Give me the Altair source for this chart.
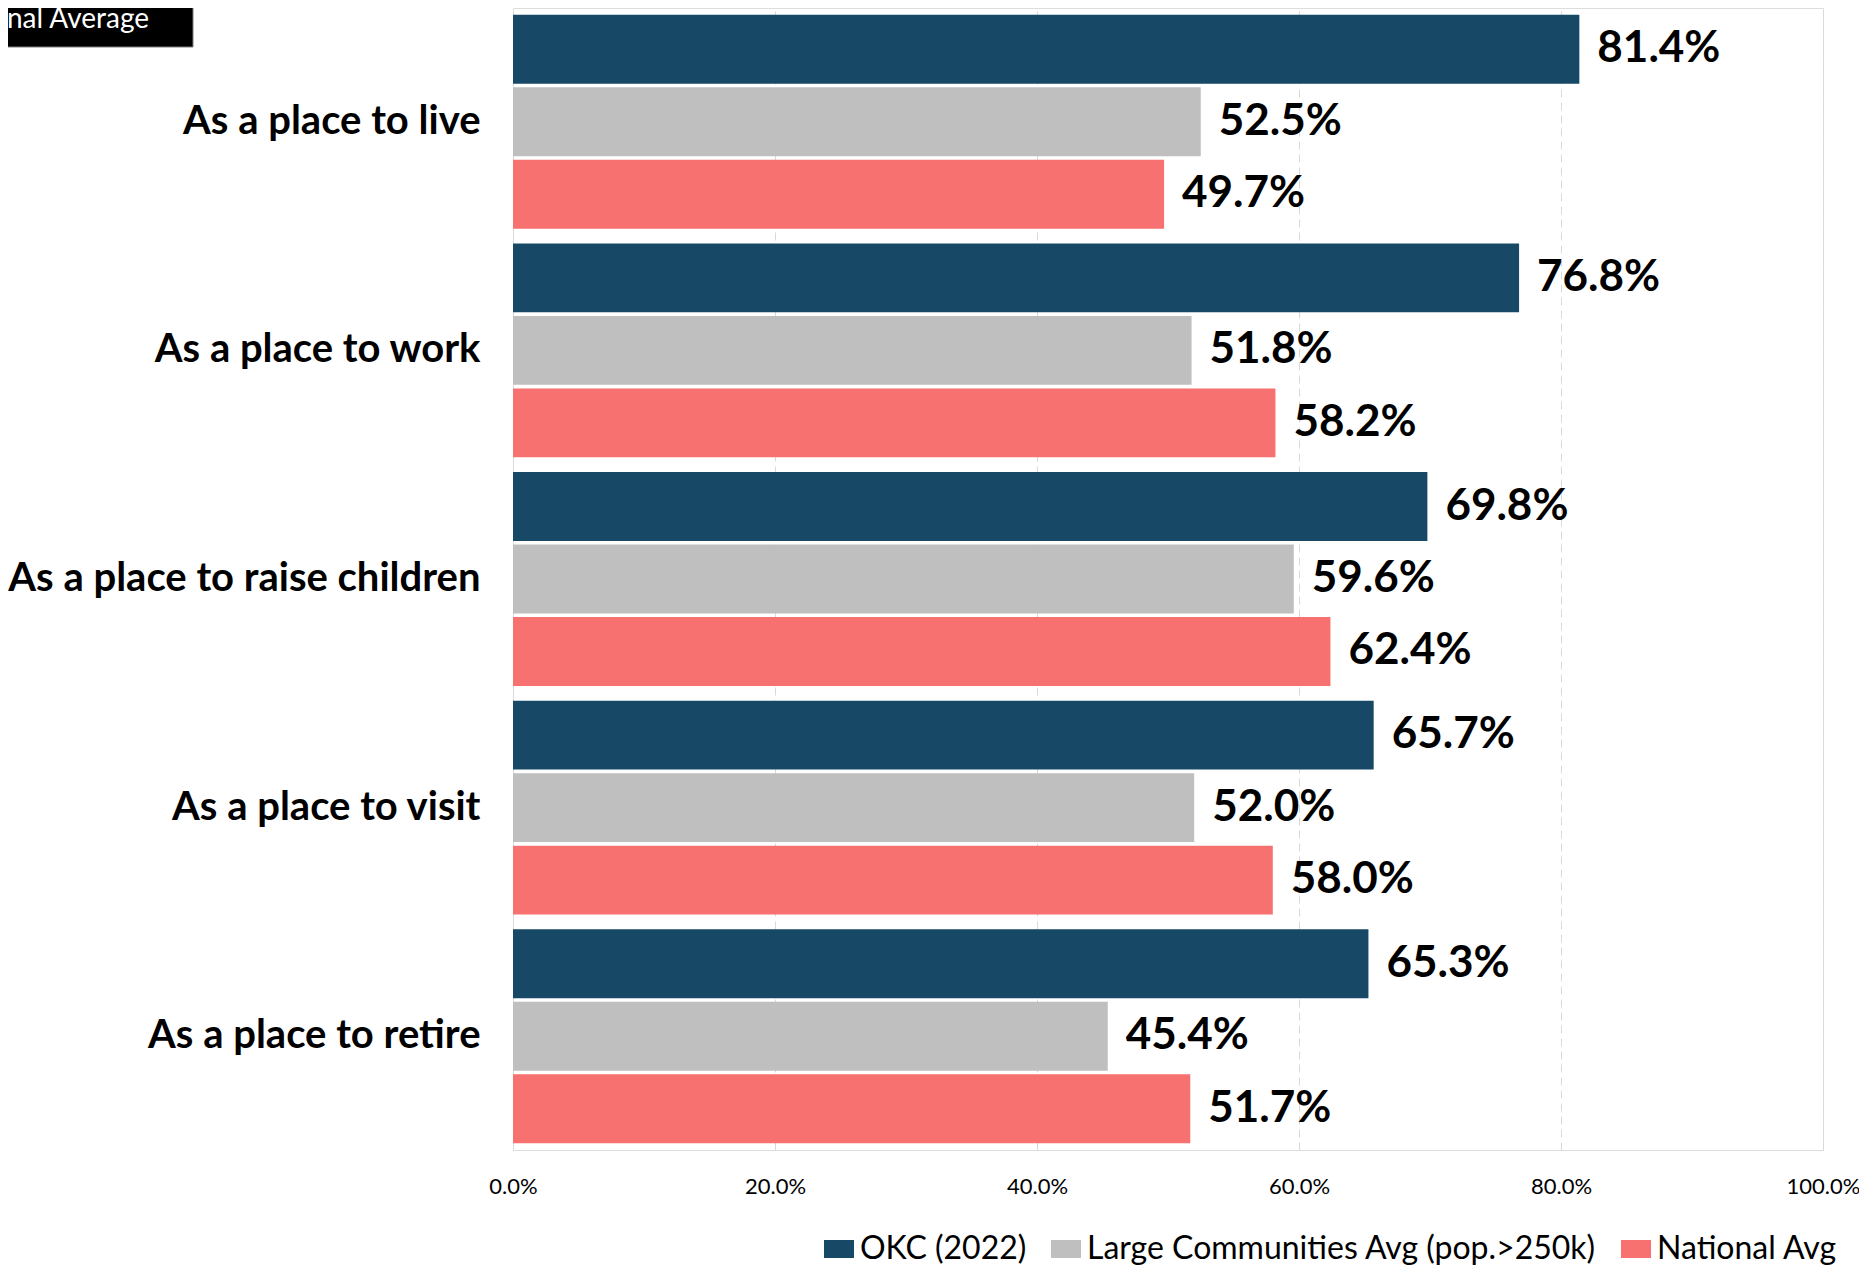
import altair as alt
import pandas as pd

categories = ["As a place to live", "As a place to work", "As a place to raise children",
              "As a place to visit", "As a place to retire"]
series = ["OKC (2022)", "Large Communities Avg (pop.>250k)", "National Avg"]
okc = [81.4, 76.8, 69.8, 65.7, 65.3]
large = [52.5, 51.8, 59.6, 52.0, 45.4]
national = [49.7, 58.2, 62.4, 58.0, 51.7]
colors = ["#174866", "#BFBFBF", "#F77170"]
x_ticks = [0, 0.2, 0.4, 0.6, 0.8, 1.0]

rows = []
for i, c in enumerate(categories):
    for s, vals in zip(series, [okc, large, national]):
        rows.append({"category": c, "series": s, "value": vals[i] / 100.0})
df = pd.DataFrame(rows)

FONT = "Lato"

base = alt.Chart(df).encode(
    y=alt.Y("category:N", sort=categories,
            scale=alt.Scale(paddingInner=0.065, paddingOuter=0.03),
            axis=alt.Axis(title=None, labelFontSize=40, labelFontWeight="bold", labelFont=FONT,
                          labelColor="black", labelPadding=33, ticks=False, domain=False,
                          labelLimit=800)),
    yOffset=alt.YOffset("series:N", sort=series,
                        scale=alt.Scale(paddingInner=0.05, paddingOuter=0)),
)

bars = base.mark_bar().encode(
    x=alt.X("value:Q", scale=alt.Scale(domain=[0, 1]),
            axis=alt.Axis(title=None, format=".1%", values=x_ticks, labelFontSize=22,
                          labelFont=FONT, labelColor="black", labelPadding=26,
                          labelFlush=False, ticks=False, domain=False, grid=True,
                          gridColor="#d9d9d9", gridDash=[8, 5], gridWidth=1)),
    color=alt.Color("series:N", sort=series,
                    scale=alt.Scale(domain=series, range=colors),
                    legend=alt.Legend(title=None, orient="none", direction="horizontal",
                                      legendX=310, legendY=1225,
                                      symbolType="M-1,-0.6L1,-0.6L1,0.6L-1,0.6Z",
                                      symbolSize=900, symbolStrokeWidth=0,
                                      labelFontSize=32, labelFont=FONT, labelColor="black",
                                      columnPadding=23, labelOffset=5, labelLimit=900)),
)

labels = base.mark_text(align="left", baseline="middle", dx=18, fontSize=44,
                        fontWeight="bold", font=FONT, color="black").encode(
    x=alt.X("value:Q"),
    text=alt.Text("value:Q", format=".1%"),
)

box = alt.Chart(alt.Data(values=[{}])).mark_rect(color="black", stroke="#7f7f7f",
                                                 strokeWidth=1).encode(
    x=alt.value(-530), x2=alt.value(-320), y=alt.value(-20), y2=alt.value(39)
)
box_text = alt.Chart(alt.Data(values=[{}])).mark_text(
    align="right", baseline="middle", fontSize=28, font=FONT, color="white"
).encode(x=alt.value(-364), y=alt.value(12), text=alt.value("National Average"))

chart = alt.layer(bars, labels, box, box_text).properties(
    width=1310, height=1142,
    autosize=alt.AutoSizeParams(type="none"),
    padding={"left": 505, "top": 0, "right": 36, "bottom": 135},
).configure_view(stroke="#8c8c8c", strokeWidth=1).configure(background="white")

chart.save("out.html", embed_options={"renderer": "svg", "actions": False})
